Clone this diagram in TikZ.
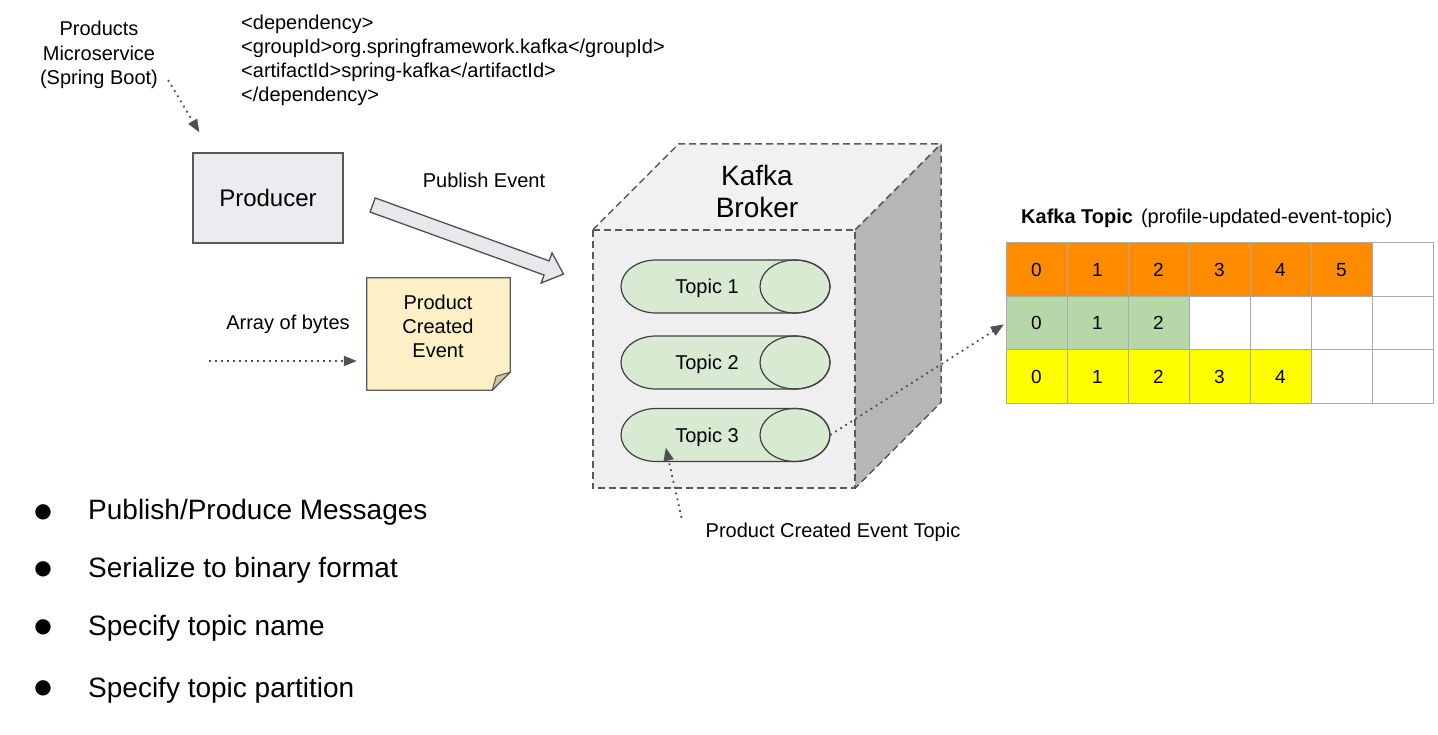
\documentclass[tikz,border=0pt]{standalone}
\usepackage{fontspec}
\setmainfont{Liberation Sans}
\newfontfamily\dejavu{DejaVu Sans}
\usetikzlibrary{arrows.meta,calc}
\definecolor{boxgray}{HTML}{595959}
\definecolor{topicline}{HTML}{404040}
\definecolor{prodfill}{HTML}{ECECF0}
\definecolor{notefill}{HTML}{FDF0C6}
\definecolor{foldfill}{HTML}{CFC3A4}
\definecolor{cubefront}{HTML}{EFEFF1}
\definecolor{cubetop}{HTML}{F1F1F3}
\definecolor{cuberight}{HTML}{B6B6B9}
\definecolor{topicfill}{HTML}{D9EAD3}
\definecolor{korange}{HTML}{FF8C00}
\definecolor{kgreen}{HTML}{B6D7A8}
\definecolor{kyellow}{HTML}{FFFF00}
\definecolor{gridgray}{HTML}{AAAAAA}
\definecolor{arrowgray}{HTML}{505050}
\definecolor{bigfill}{HTML}{E8E8EC}
\tikzset{
  txt/.style={inner sep=0pt, text=black, font=\fontsize{20}{24}\selectfont},
  dotarrow/.style={draw=arrowgray, line width=1.8pt, dash pattern=on 1.8pt off 4.2pt,
    -{Triangle[length=13pt,width=10pt,fill=arrowgray]}},
  cell/.style={draw=gridgray, line width=1pt, minimum width=61pt, minimum height=53.5pt,
    inner sep=0pt, font=\fontsize{19}{22}\selectfont, text=black},
  cubeline/.style={draw=boxgray, line width=1.5pt, dash pattern=on 7pt off 4pt},
  topicpic/.pic={
    \path[draw=topicline, fill=topicfill, line width=1.2pt]
      (-69.5,26.5) arc[start angle=90,end angle=270,x radius=35,y radius=26.5]
      -- (69.5,-26.5) arc[start angle=270,end angle=450,x radius=35,y radius=26.5] -- cycle;
    \draw[topicline, line width=1.2pt] (69.5,0) ellipse[x radius=35,y radius=26.5];
  },
  bullettxt/.style={inner sep=0pt, anchor=base west, text=black, font=\fontsize{28}{32}\selectfont},
  bulletdot/.style={inner sep=0pt, text=black, font=\dejavu\fontsize{20}{20}\selectfont},
}
\begin{document}
\begin{tikzpicture}[x=1pt,y=1pt]
\fill[white] (0,0) rectangle (1438,-735);
\useasboundingbox (0,0) rectangle (1438,-735);

% ---- top-left texts
\node[txt, align=center, font=\fontsize{20}{24.5}\selectfont] (ms) at (99,-55) {Products\\Microservice\\(Spring Boot)};
\node[txt, align=left, anchor=west] (dep) at (241,-60) {<dependency>\\<groupId>org.springframework.kafka</groupId>\\<artifactId>spring-kafka</artifactId>\\</dependency>};

% ---- producer
\node[draw=boxgray, fill=prodfill, line width=1.3pt, minimum width=150pt, minimum height=90pt,
  inner sep=0pt, text=black, font=\fontsize{24}{28}\selectfont] (prod) at (268,-198) {Producer};
\draw[dotarrow] ($(ms.south east)+(10,9)$) -- ($(prod.north west)+(7,20)$);

\node[txt, anchor=base] (pub) at (484,-188) {Publish Event};

% big publish arrow
\begin{scope}[shift={($(prod.east)+(29,-7)$)}, rotate=-19.9]
  \draw[draw=arrowgray, fill=bigfill, line width=1.3pt, line join=miter]
    (0,7.5) -- (185,7.5) -- (185,16) -- (203,0) -- (185,-16) -- (185,-7.5) -- (0,-7.5) -- cycle;
\end{scope}

% ---- note
\node[minimum width=143pt, minimum height=112pt, inner sep=0pt] (note) at (438.5,-334) {};
\draw[draw=boxgray, fill=notefill, line width=1.3pt, line join=miter]
  (note.north west) -- (note.north east) -- ($(note.south east)+(0,18)$)
  -- ($(note.south east)+(-18,0)$) -- (note.south west) -- cycle;
\draw[draw=boxgray, fill=foldfill, line width=1pt, line join=round]
  ($(note.south east)+(0,18)$) -- ($(note.south east)+(-14,14)$) -- ($(note.south east)+(-18,0)$) -- cycle;
\node[txt, align=center] (notetxt) at (438,-326) {Product\\Created\\Event};

\node[txt, anchor=base] (aob) at (288,-330) {Array of bytes};
\coordinate (aobstart) at (209,-361);
\draw[dotarrow, shorten >=10pt] (aobstart) -- (note.west |- aobstart);

% ---- cube
\node[minimum width=262pt, minimum height=258pt, inner sep=0pt] (broker) at (724,-359) {};
\fill[cubetop] (broker.north west) -- ++(86,86) -- ($(broker.north east)+(86,86)$) -- (broker.north east) -- cycle;
\fill[cuberight] (broker.north east) -- ++(86,86) -- ($(broker.south east)+(86,86)$) -- (broker.south east) -- cycle;
\draw[cubeline, fill=cubefront] (broker.north west) rectangle (broker.south east);
\draw[cubeline] (broker.north west) -- ++(86,86) -- ($(broker.north east)+(86,86)$) -- ($(broker.south east)+(86,86)$) -- (broker.south east);
\draw[cubeline] (broker.north east) -- ++(86,86);
\node[txt, align=center, font=\fontsize{28}{32}\selectfont] (bt) at (757,-191) {Kafka\\Broker};

% topics
\node[minimum width=209pt, minimum height=53pt, inner sep=0pt] (c1) at (725.5,-286.5) {};
\node[minimum width=209pt, minimum height=53pt, inner sep=0pt] (c2) at (725.5,-362.5) {};
\node[minimum width=209pt, minimum height=53pt, inner sep=0pt] (c3) at (725.5,-435) {};
\pic at (c1.center) {topicpic};
\pic at (c2.center) {topicpic};
\pic at (c3.center) {topicpic};
\node[txt, anchor=base] (t1) at (707,-294) {Topic 1};
\node[txt, anchor=base] (t2) at (707,-370) {Topic 2};
\node[txt, anchor=base] (t3) at (707,-442.5) {Topic 3};

\node[txt, anchor=base] (pcet) at (833,-537) {Product Created Event Topic};
\draw[dotarrow] ($(pcet.west)+(-24,14)$) -- ($(c3.south west)+(45,14)$);

% ---- kafka topic table
\node[txt, anchor=west, font=\fontsize{20}{23}\selectfont] (tt) at (1021,-218) {\textbf{Kafka Topic}\hspace{8pt}(profile-updated-event-topic)};
\foreach \r/\n/\col in {1/6/korange,2/3/kgreen,3/5/kyellow}{
  \foreach \c in {1,...,7}{
    \pgfmathtruncatemacro\lab{\c-1}
    \ifnum\c>\n
      \node[cell, fill=white] (r\r c\c) at ({1006+61*(\c-0.5)},{-243-53.5*(\r-0.5)}) {};
    \else
      \node[cell, fill=\col] (r\r c\c) at ({1006+61*(\c-0.5)},{-243-53.5*(\r-0.5)}) {\lab};
    \fi
  }
}
\draw[dotarrow, shorten >=2pt] (c3.east) -- (r2c1.west);

% ---- bullets
\node[bulletdot] (d1) at (43,-512) {●};
\node[bulletdot] (d2) at (43,-569) {●};
\node[bulletdot] (d3) at (43,-627) {●};
\node[bulletdot] (d4) at (43,-688) {●};
\node[bullettxt] (l1) at (88,-519) {Publish/Produce Messages};
\node[bullettxt] (l2) at (88,-577) {Serialize to binary format};
\node[bullettxt] (l3) at (88,-635) {Specify topic name};
\node[bullettxt] (l4) at (88,-697) {Specify topic partition};
\end{tikzpicture}
\end{document}
